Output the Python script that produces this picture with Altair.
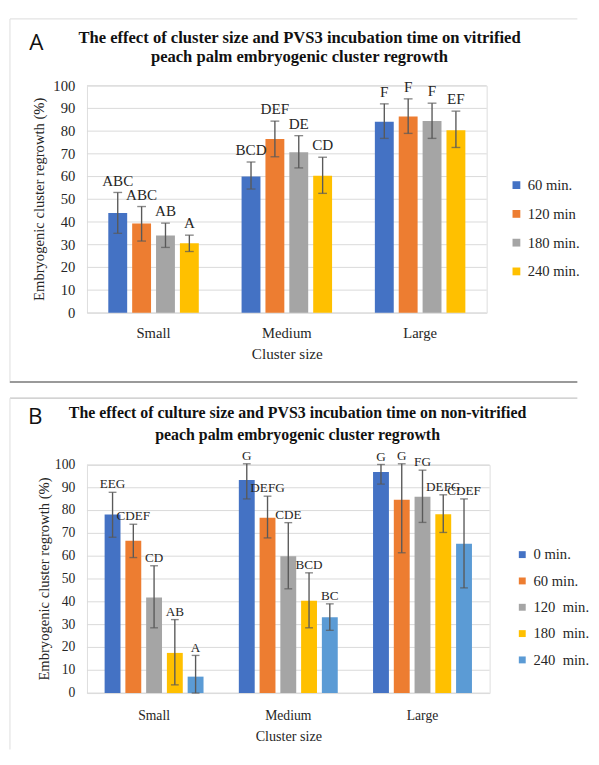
import altair as alt
import pandas as pd

SERIF = "Liberation Serif"

sizes = ["Small", "Medium", "Large"]
y_ticks = [0, 10, 20, 30, 40, 50, 60, 70, 80, 90, 100]

# ---------- Panel A (vitrified) ----------
times_a = ["60 min.", "120 min", "180 min.", "240 min."]
colors_a = ["#4472C4", "#ED7D31", "#A5A5A5", "#FFC000"]
mean_a = {"Small": [44.0, 39.3, 34.0, 30.6],
          "Medium": [60.0, 76.5, 70.7, 60.4],
          "Large": [84.1, 86.4, 84.4, 80.4]}
lo_a = {"Small": [35.0, 31.6, 28.8, 27.0],
        "Medium": [54.5, 68.7, 63.8, 52.6],
        "Large": [76.8, 79.0, 76.8, 72.8]}
hi_a = {"Small": [53.0, 46.8, 39.5, 34.2],
        "Medium": [66.4, 84.4, 78.0, 68.5],
        "Large": [92.0, 94.2, 92.3, 88.8]}
letters_a = {"Small": ["ABC", "ABC", "AB", "A"],
             "Medium": ["BCD", "DEF", "DE", "CD"],
             "Large": ["F", "F", "F", "EF"]}
title_a = ["The effect of cluster size and PVS3 incubation time on vitrified",
           "peach palm embryogenic cluster regrowth"]

# ---------- Panel B (non-vitrified) ----------
times_b = ["0 min.", "60 min.", "120\u00a0 min.", "180\u00a0 min.", "240\u00a0 min."]
colors_b = ["#4472C4", "#ED7D31", "#A5A5A5", "#FFC000", "#5B9BD5"]
mean_b = {"Small": [78.3, 66.8, 41.9, 17.6, 7.2],
          "Medium": [93.4, 76.8, 60.0, 40.5, 33.2],
          "Large": [96.9, 84.7, 86.1, 78.4, 65.5]}
lo_b = {"Small": [68.3, 59.4, 28.6, 3.6, 0.0],
        "Medium": [85.1, 68.0, 45.7, 28.6, 27.5],
        "Large": [91.6, 61.5, 74.8, 70.4, 46.1]}
hi_b = {"Small": [88.0, 74.0, 55.8, 32.2, 16.5],
        "Medium": [100.5, 86.3, 74.7, 52.7, 39.1],
        "Large": [100.2, 100.5, 97.7, 86.9, 85.1]}
letters_b = {"Small": ["EEG", "CDEF", "CD", "AB", "A"],
             "Medium": ["G", "DEFG", "CDE", "BCD", "BC"],
             "Large": ["G", "G", "FG", "DEFG", "CDEF"]}
title_b = ["The effect of culture size and PVS3 incubation time on non-vitrified",
           "peach palm embryogenic cluster regrowth"]


def table(times, mean, lo, hi, letters):
    rows = []
    for s in sizes:
        for i, t in enumerate(times):
            rows.append({"size": s, "time": t, "mean": mean[s][i],
                         "lo": lo[s][i], "hi": hi[s][i], "letter": letters[s][i]})
    return pd.DataFrame(rows)


def panel(df, times, colors, title_lines, tag, width, height, pad_in, pad_out,
          sub_pad, fs_tick, fs_letter, letter_dy, cap, title_pos, title_fs,
          ytitle_x, tag_xy, legend_xy, legend_row, sym_size, border, xlab_pad,
          xtitle_pad):
    base = alt.Chart(df)
    x = alt.X("size:N", sort=sizes,
              scale=alt.Scale(paddingInner=pad_in, paddingOuter=pad_out),
              axis=alt.Axis(title="Cluster size", labelAngle=0, ticks=False,
                            domain=False, labelFont=SERIF,
                            labelFontSize=fs_tick, labelColor="#262626",
                            labelPadding=xlab_pad, titleFont=SERIF,
                            titleFontSize=fs_tick + 0.5, titleFontWeight="normal",
                            titleColor="#262626", titlePadding=xtitle_pad))
    xo = alt.XOffset("time:N", sort=times,
                     scale=alt.Scale(paddingInner=sub_pad, paddingOuter=0))
    y_scale = alt.Scale(domain=[0, 100], nice=False)

    def Y(field):
        return alt.Y(field, type="quantitative", scale=y_scale, axis=None)

    color = alt.Color("time:N", sort=times,
                      scale=alt.Scale(domain=times, range=colors),
                      legend=alt.Legend(title=None, orient="none",
                                        legendX=legend_xy[0], legendY=legend_xy[1],
                                        symbolType="square", symbolSize=sym_size,
                                        symbolStrokeWidth=0, labelFont=SERIF,
                                        labelFontSize=15, labelColor="#262626",
                                        labelOffset=4, rowPadding=legend_row,
                                        padding=0))
    tick_df = pd.DataFrame({"v": y_ticks})
    grid = alt.Chart(tick_df).mark_rule(color="#D9D9D9", strokeWidth=1).encode(
        y=Y("v"), x=alt.value(0), x2=alt.value(width))
    tick_labels = alt.Chart(tick_df).mark_text(
        font=SERIF, fontSize=fs_tick, color="#262626", align="right",
        baseline="middle", dx=-12).encode(
        y=Y("v"), x=alt.value(0), text="v:Q")
    bars = base.mark_bar().encode(x=x, xOffset=xo, y=Y("mean"), color=color)
    err = base.mark_rule(color="#595959", strokeWidth=1.4).encode(
        x=x, xOffset=xo, y=Y("lo"), y2="hi:Q")
    cap_lo = base.mark_tick(color="#595959", thickness=1.4, size=cap).encode(
        x=x, xOffset=xo, y=Y("lo"))
    cap_hi = base.mark_tick(color="#595959", thickness=1.4, size=cap).encode(
        x=x, xOffset=xo, y=Y("hi"))
    labels = base.mark_text(font=SERIF, fontSize=fs_letter, color="#262626",
                            baseline="middle", dy=letter_dy).encode(
        x=x, xOffset=xo, y=Y("hi"), text="letter:N")
    one = alt.Chart(pd.DataFrame({"d": [0]}))
    ytitle = one.mark_text(text="Embryogenic cluster regrowth (%)", font=SERIF,
                           fontSize=15, color="#262626", angle=270,
                           align="center", baseline="middle").encode(
        x=alt.value(ytitle_x), y=alt.value(height / 2))
    tag_mark = one.mark_text(text=tag, font="Open Sans", fontSize=23,
                             color="#111111", align="center",
                             baseline="middle").encode(
        x=alt.value(tag_xy[0]), y=alt.value(tag_xy[1]))
    title_marks = []
    for k, line in enumerate(title_lines):
        title_marks.append(one.mark_text(text=line, font=SERIF, fontSize=title_fs,
                                         fontWeight="bold", color="#111111",
                                         align="center", baseline="middle").encode(
            x=alt.value(title_pos[0]), y=alt.value(title_pos[1 + k])))
    lines = []
    for (x1, x2, y1, y2, col, sw) in border:
        lines.append(one.mark_rule(color=col, strokeWidth=sw).encode(
            x=alt.value(x1), x2=alt.value(x2), y=alt.value(y1), y2=alt.value(y2)))
    return alt.layer(*lines, grid, tick_labels, bars, err, cap_lo, cap_hi, labels,
                     ytitle, tag_mark, *title_marks).properties(
        width=width, height=height)


df_a = table(times_a, mean_a, lo_a, hi_a, letters_a)
df_b = table(times_b, mean_b, lo_b, hi_b, letters_b)

# page: plot left = 87 ; A plot top ~ 77 ; B plot top ~ 463
border_a = [(-79, 503, -68.5, -68.5, "#E3E3E3", 1.2),
            (-79, -79, -68.5, 305, "#E3E3E3", 1.2),
            (-79, 503, 304, 304, "#9A9A9A", 2.0)]
border_b = [(-79, 503, -68.5, -68.5, "#C4C4C4", 1.2),
            (-79, -79, -68.5, 292, "#E3E3E3", 1.2)]

chart_a = panel(df_a, times_a, colors_a, title_a, "A", 410, 233,
                0.321, 0.16, 0.209, 15, 15.5, -12, 9, (218, -49, -29), 17, -49,
                (-52, -44), (433, 94.5), 13.5, 64, border_a, 13, 7)
chart_b = panel(df_b, times_b, colors_b, title_b, "B", 413, 234,
                0.263, 0.1315, 0.235, 14, 13.5, -8, 8, (216, -53, -31), 16.3, -44,
                (-53, -49), (439, 84.5), 11, 50, border_b, 16, 8)

chart = alt.vconcat(chart_a, chart_b, spacing=12).resolve_scale(
    color="independent", x="independent", y="independent",
    xOffset="independent").properties(padding=0).configure_view(
    stroke=None).configure(background="white")

chart.save("out.html", embed_options={"renderer": "svg", "actions": False})
